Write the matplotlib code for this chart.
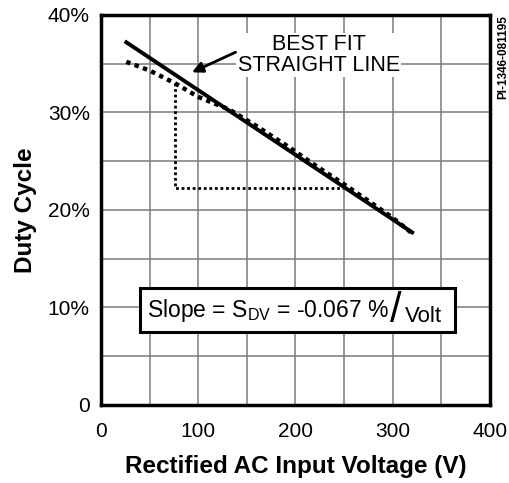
import matplotlib.pyplot as plt
from matplotlib.patches import Rectangle
import numpy as np

plt.rcParams['font.family'] = ['Liberation Sans', 'DejaVu Sans']

meas_v = [26, 50, 76, 100, 132, 160, 194, 220, 249, 277, 300, 320]
meas_dc = [35.2, 34.3, 33.0, 31.6, 30.3, 28.6, 26.4, 24.6, 22.7, 20.8, 19.2, 17.6]

# best fit straight line end points
fit_v = [26, 320]
fit_dc = [37.2, 17.7]

# slope triangle
tri_v = [76, 76, 249]
tri_dc = [33.0, 22.3, 22.3]

xticks = [0, 100, 200, 300, 400]
yticks = [0, 10, 20, 30, 40]
ytick_labels = ['0', '10%', '20%', '30%', '40%']

fig = plt.figure(figsize=(5.09, 4.83), dpi=100)
ax = fig.add_axes([0.1984, 0.1615, 0.7642, 0.8075])

ax.set_xlim(0, 400)
ax.set_ylim(0, 40)
ax.set_xticks(np.arange(0, 401, 50), minor=True)
ax.set_yticks(np.arange(0, 41, 5), minor=True)
ax.set_xticks(xticks)
ax.set_yticks(yticks)
ax.set_yticklabels(ytick_labels)
ax.grid(True, which='both', color='#7a7a7a', lw=1.1)
ax.tick_params(which='both', length=0, labelsize=15)
ax.tick_params(axis='x', pad=12)
ax.tick_params(axis='y', pad=8)
for s in ax.spines.values():
    s.set_linewidth(2.5)

ax.plot(tri_v, tri_dc, color='black', lw=2, linestyle=(0, (1, 1)), zorder=3)
ax.plot(meas_v, meas_dc, color='black', lw=3.2, linestyle=(0, (1, 1)), zorder=4)
ax.plot(fit_v, fit_dc, color='black', lw=2.8, zorder=5)

ax.text(224, 35.9, 'BEST FIT\nSTRAIGHT LINE', ha='center', va='center',
        fontsize=15.5, linespacing=0.95,
        bbox=dict(facecolor='white', edgecolor='none', pad=1), zorder=6)
ax.annotate('', xy=(91, 34.0), xytext=(141, 36.3),
            arrowprops=dict(arrowstyle='-|>', color='black', lw=2,
                            mutation_scale=16), zorder=6)

# slope box: text, big slash, lowered "Volt"
ax.add_patch(Rectangle((40.1, 7.49), 323.9, 4.51, facecolor='white',
                       edgecolor='black', lw=2.2, zorder=6))
ax.text(47.3, 9.03, r'Slope = S$_{\mathregular{DV}}$ = -0.067 %',
        ha='left', va='baseline', fontsize=16.5, zorder=7)
ax.text(297.2, 8.51, '/', ha='left', va='baseline', fontsize=30, zorder=7)
ax.text(312.6, 8.51, 'Volt', ha='left', va='baseline', fontsize=16, zorder=7)

ax.set_xlabel('Rectified AC Input Voltage (V)', fontsize=17.5,
              fontweight='bold', labelpad=10)
ax.set_ylabel('Duty Cycle', fontsize=17.5, fontweight='bold', labelpad=8)

fig.text(0.988, 0.969, 'PI-1346-081195', rotation=90, ha='center', va='top',
         fontsize=8.5, fontweight='bold')

fig.savefig('out.png', dpi=100)
